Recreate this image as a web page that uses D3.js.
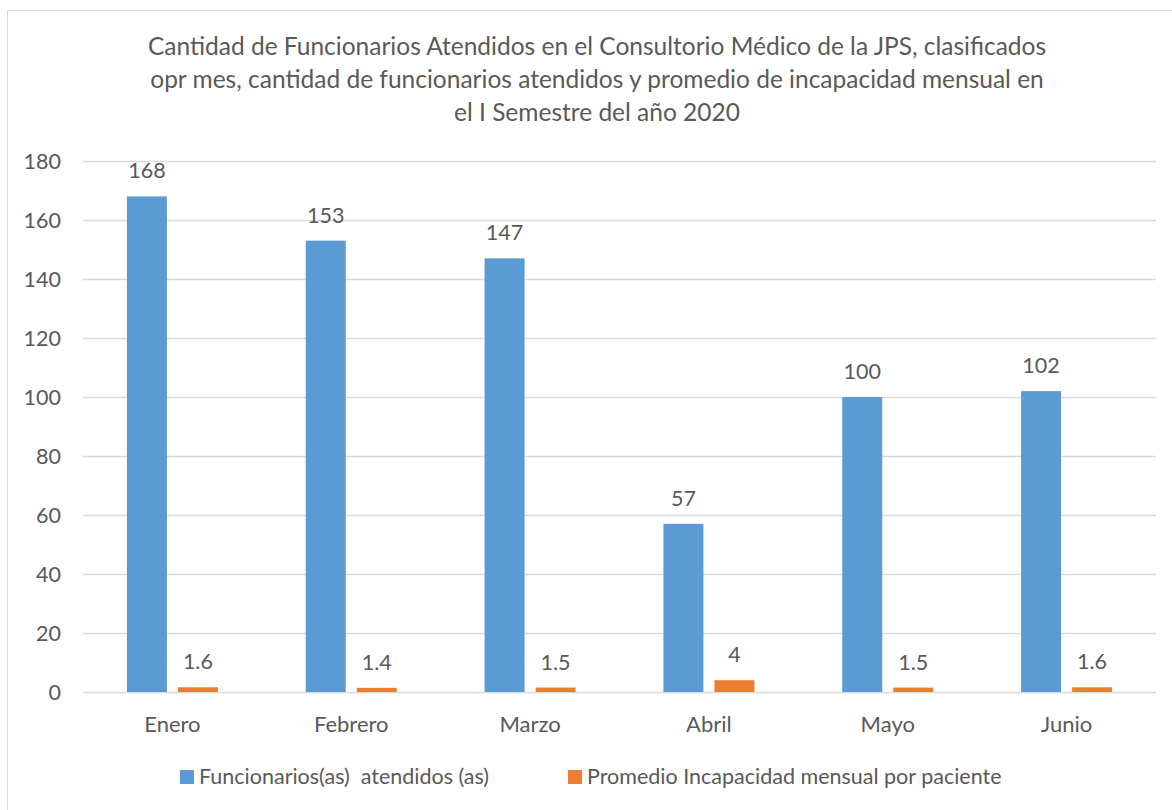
<!DOCTYPE html>
<html>
<head>
<meta charset="utf-8">
<script src="https://cdn.jsdelivr.net/npm/d3@7"></script>
<style>
  body { margin: 0; background: #fff; }
  svg text { font-family: Lato, "Open Sans", sans-serif; fill: #595959; white-space: pre; }
</style>
</head>
<body>
<div id="graph"></div>
<script>
// datos del grafico
const months = ["Enero", "Febrero", "Marzo", "Abril", "Mayo", "Junio"];
const atendidos = [168, 153, 147, 57, 100, 102];
const promedio = [1.6, 1.4, 1.5, 4, 1.5, 1.6];
const seriesNames = ["Funcionarios(as)  atendidos (as)", "Promedio Incapacidad mensual por paciente"];
const yTicks = [0, 20, 40, 60, 80, 100, 120, 140, 160, 180];
const titleLines = [
  "Cantidad de Funcionarios Atendidos en el Consultorio Médico de la JPS, clasificados",
  "opr mes, cantidad de funcionarios atendidos y promedio de incapacidad mensual en",
  "el I Semestre del año 2020"
];
const colors = ["#5B9BD5", "#ED7D31"];

let width = 1172, height = 810;
let margin = {top: 161, right: 15, bottom: 118, left: 83};

let svg = d3.select("#graph")
  .append("svg")
  .attr("width", width)
  .attr("height", height);

// borde del grafico
svg.append("rect")
  .attr("x", 7.5).attr("y", 10.5)
  .attr("width", width).attr("height", height)
  .attr("fill", "none")
  .attr("stroke", "#D9D9D9");

// titulo
svg.append("g")
  .selectAll("text")
  .data(titleLines)
  .join("text")
  .attr("x", 597)
  .attr("y", (d, i) => 55 + i * 33)
  .attr("text-anchor", "middle")
  .style("font-size", "24.5px")
  .text(d => d);

let x0 = d3.scaleBand()
  .domain(months)
  .range([margin.left, width - margin.right - 1])
  .padding(0);

let groupW = 91;
let x1 = d3.scaleBand()
  .domain([0, 1])
  .range([0, groupW])
  .paddingInner(0.216);

let y = d3.scaleLinear()
  .domain([0, 180])
  .range([height - margin.bottom, margin.top]);

// lineas de cuadricula
svg.append("g")
  .selectAll("line")
  .data(yTicks)
  .join("line")
  .attr("x1", margin.left)
  .attr("x2", width - margin.right - 1)
  .attr("y1", d => Math.round(y(d)) + 0.5)
  .attr("y2", d => Math.round(y(d)) + 0.5)
  .attr("stroke", "#D9D9D9")
  .attr("stroke-width", 1.5);

// etiquetas del eje y
svg.append("g")
  .selectAll("text")
  .data(yTicks)
  .join("text")
  .attr("x", 61)
  .attr("y", d => y(d))
  .attr("dy", "0.35em")
  .attr("text-anchor", "end")
  .style("font-size", "21.5px")
  .text(d => d);

// etiquetas del eje x
svg.append("g")
  .selectAll("text")
  .data(months)
  .join("text")
  .attr("x", d => x0(d) + x0.bandwidth() / 2)
  .attr("y", 732)
  .attr("text-anchor", "middle")
  .style("font-size", "22px")
  .text(d => d);

let rows = months.map((m, i) => ({month: m, values: [atendidos[i], promedio[i]]}));
let off = (x0.bandwidth() - groupW) / 2;

let groups = svg.append("g")
  .selectAll("g")
  .data(rows)
  .join("g")
  .attr("transform", d => "translate(" + (x0(d.month) + off) + ",0)");

groups.selectAll("rect")
  .data(d => d.values.map((v, k) => ({k: k, v: v})))
  .join("rect")
  .attr("x", d => x1(d.k))
  .attr("width", x1.bandwidth())
  .attr("y", d => y(d.v))
  .attr("height", d => y(0) - y(d.v))
  .attr("fill", d => colors[d.k]);

groups.selectAll("text")
  .data(d => d.values.map((v, k) => ({k: k, v: v})))
  .join("text")
  .attr("x", d => x1(d.k) + x1.bandwidth() / 2)
  .attr("y", d => y(d.v) - 18)
  .attr("text-anchor", "middle")
  .style("font-size", "21.5px")
  .text(d => d.v);

// leyenda
let legendX = [180, 568];
let legend = svg.append("g")
  .selectAll("g")
  .data(seriesNames)
  .join("g")
  .attr("transform", (d, i) => "translate(" + legendX[i] + ",770)");

legend.append("rect")
  .attr("width", 14).attr("height", 14)
  .attr("fill", (d, i) => colors[i]);

legend.append("text")
  .attr("x", 19)
  .attr("y", 14)
  .style("font-size", "21.5px")
  .text(d => d);
</script>
</body>
</html>
